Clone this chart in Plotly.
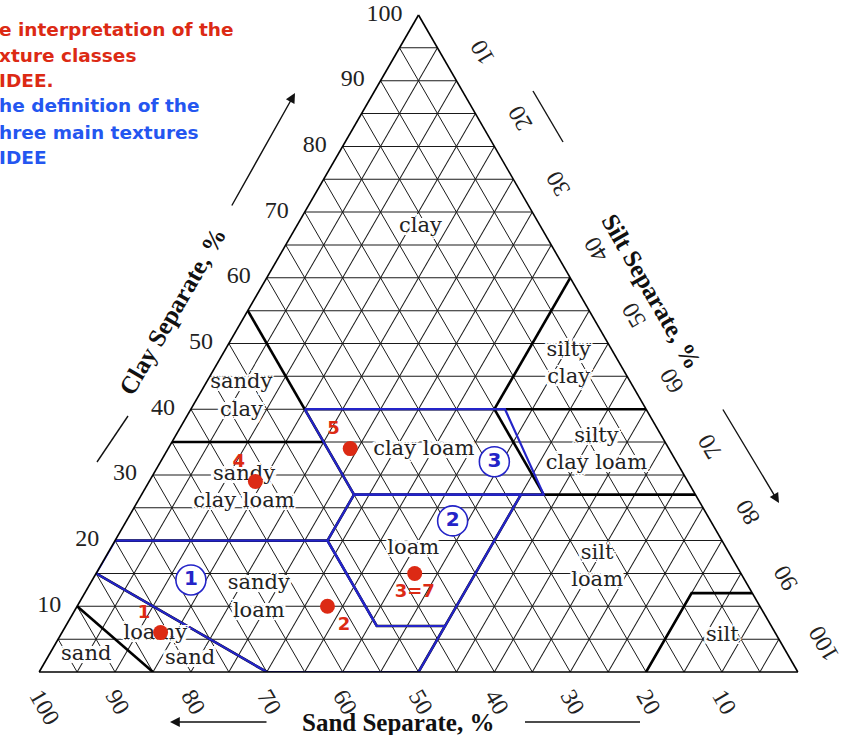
import plotly.graph_objects as go

# ---------------- data (percent sand, silt, clay) ----------------
# analysed samples
sample_names = ["1", "2", "3=7", "4", "5"]
sample_sand = [81, 57, 43, 57, 42]
sample_silt = [13, 33, 42, 14, 24]
sample_clay = [6, 10, 15, 29, 34]
sample_textpos = ["top left", "bottom right", "bottom center", "top left", "top left"]

# the three main texture groups (circled numbers)
group_names = ["1", "2", "3"]
group_sand = [73, 34, 24]
group_silt = [13, 43, 44]
group_clay = [14, 23, 32]

# texture class names and where they are written
class_names = ["clay", "sandy<br>clay", "silty<br>clay", "silty<br>clay loam", "clay loam",
               "sandy<br>clay loam", "loam", "silt<br>loam", "sandy<br>loam",
               "loamy", "sand", "sand", "silt"]
class_clay = [67.7, 41.9, 46.8, 33.7, 33.8, 28.0, 18.8, 15.9, 11.3, 5.8, 2.0, 2.6, 5.5]
class_silt = [16.4, 5.7, 46.4, 56.6, 33.8, 13.0, 39.9, 65.6, 23.3, 12.4, 18.9, 4.9, 87.3]
class_sand = [round(100 - c - s, 1) for c, s in zip(class_clay, class_silt)]

# USDA texture class boundaries, vertices as (sand, silt, clay)
sand_loamy_sand = [(90, 0, 10), (85, 15, 0)]
loamy_sand_sandy_loam = [(85, 0, 15), (70, 30, 0)]
sandy_loam_top = [(80, 0, 20), (52, 28, 20), (52, 41, 7), (43, 50, 7)]
loam_left = [(52, 28, 20), (45, 28, 27)]
silt_50 = [(50, 50, 0), (23, 50, 27)]
clay_27 = [(45, 28, 27), (0, 73, 27)]
clay_35 = [(65, 0, 35), (45, 20, 35)]
sand_45 = [(45, 28, 27), (45, 0, 55)]
clay_40 = [(45, 15, 40), (0, 60, 40)]
sand_20 = [(20, 40, 40), (20, 53, 27)]
silt_40 = [(20, 40, 40), (0, 40, 60)]
silt_class = [(20, 80, 0), (8, 80, 12), (0, 88, 12)]
class_lines = [sand_loamy_sand, loamy_sand_sandy_loam, sandy_loam_top, loam_left, silt_50,
               clay_27, clay_35, sand_45, clay_40, sand_20, silt_40, silt_class]

# outlines of the three main textures
group1_outline = [(80, 0, 20), (52, 28, 20), (52, 41, 7), (43, 50, 7), (50, 50, 0),
                  (70, 30, 0), (85, 0, 15), (80, 0, 20)]
group2_outline = [(45, 28, 27), (52, 28, 20), (52, 41, 7), (43, 50, 7), (23, 50, 27),
                  (45, 28, 27)]
group3_outline = [(45, 15, 40), (18.6, 41.4, 40), (20, 53, 27), (45, 28, 27), (45, 15, 40)]
group_outlines = [group1_outline, group2_outline, group3_outline]

# axis ticks: grid every 5 %, labels every 10 %
tick_vals = list(range(5, 101, 5))
tick_text = [str(v) if v % 10 == 0 else "" for v in tick_vals]

# ---------------- page geometry helpers ----------------
W, H = 843, 735
L, R, T, B = 39, 45, 15, 63


def fx(px):
    return (px - L) / (W - L - R)


def fy(py):
    return (H - B - py) / (H - T - B)


BLUE = "#2424c8"
RED = "#dc2a14"
halo = ", ".join(f"{dx}px {dy}px 0 white" for dx in (-3, 0, 3) for dy in (-3, 0, 3)) + ", 0 0 5px white"

fig = go.Figure()

for line in class_lines:
    fig.add_trace(go.Scatterternary(
        a=[p[2] for p in line], b=[p[0] for p in line], c=[p[1] for p in line],
        mode="lines", line=dict(color="black", width=2.6), hoverinfo="skip"))

for line in group_outlines:
    fig.add_trace(go.Scatterternary(
        a=[p[2] for p in line], b=[p[0] for p in line], c=[p[1] for p in line],
        mode="lines", line=dict(color=BLUE, width=2.2), hoverinfo="skip"))

fig.add_trace(go.Scatterternary(
    a=class_clay, b=class_sand, c=class_silt, mode="text", text=class_names,
    textfont=dict(family="DejaVu Serif", size=21, color="#222", shadow=halo),
    hoverinfo="skip"))

fig.add_trace(go.Scatterternary(
    a=group_clay, b=group_sand, c=group_silt, mode="markers+text", text=group_names,
    textposition="middle center",
    marker=dict(size=30, color="white", line=dict(color=BLUE, width=1.6)),
    textfont=dict(family="DejaVu Sans", size=20, color=BLUE, weight="bold"),
    hoverinfo="skip"))

fig.add_trace(go.Scatterternary(
    a=sample_clay, b=sample_sand, c=sample_silt, mode="markers+text", text=sample_names,
    textposition=sample_textpos,
    marker=dict(size=15, color=RED),
    textfont=dict(family="DejaVu Sans", size=18, color=RED, weight="bold"),
    hoverinfo="skip"))

axis_common = dict(
    tickmode="array", tickvals=tick_vals, ticktext=tick_text,
    tickcolor="rgba(0,0,0,0)",
    tickfont=dict(family="Liberation Serif", size=24, color="#222"),
    showgrid=True, gridcolor="#1a1a1a", gridwidth=1.2,
    showline=True, linecolor="black", linewidth=1.6,
    title=dict(text=""), min=0,
)

fig.update_layout(
    width=W, height=H,
    margin=dict(l=L, r=R, t=T, b=B),
    paper_bgcolor="white", plot_bgcolor="white",
    showlegend=False,
    ternary=dict(
        sum=100, bgcolor="white",
        aaxis=dict(axis_common, tickangle=0, ticks="outside", ticklen=12),
        baxis=dict(axis_common, tickangle=60, ticks=""),
        caxis=dict(axis_common, tickangle=-120, ticks="outside", ticklen=16),
    ),
)

annotations = []
title_font = dict(family="Liberation Serif", size=25, color="#111", weight="bold")
title_style = dict(xref="paper", yref="paper", showarrow=False, font=title_font,
                   xanchor="center", yanchor="middle")
annotations.append(dict(title_style, text="Sand Separate, %", x=fx(398), y=fy(722)))
annotations.append(dict(title_style, text="Clay Separate, %", x=fx(172), y=fy(311), textangle=-60))
annotations.append(dict(title_style, text="Silt Separate, %", x=fx(652), y=fy(291), textangle=60))

# direction arrows
arrow_style = dict(xref="paper", yref="paper", showarrow=True, text="", arrowhead=2,
                   arrowsize=1.4, arrowwidth=1.4, arrowcolor="#111")
annotations.append(dict(arrow_style, x=fx(170), y=fy(722), ax=98, ay=0))
annotations.append(dict(arrow_style, x=fx(295), y=fy(93), ax=-64, ay=114))
annotations.append(dict(arrow_style, x=fx(779), y=fy(503), ax=-57, ay=-95))

# notes in the upper left corner
note_red = ["e interpretation of the", "xture classes", "IDEE."]
note_blue = ["he definition of the", "hree main textures", "IDEE"]
note_y = [29, 55, 80, 105, 132, 157]
for txt, yy, col in zip(note_red + note_blue, note_y, [RED] * 3 + ["#2456f0"] * 3):
    annotations.append(dict(text=txt, x=fx(-3), y=fy(yy), xref="paper", yref="paper",
                            xanchor="left", yanchor="middle", showarrow=False,
                            font=dict(family="DejaVu Sans", size=18.5, color=col, weight="bold")))

fig.update_layout(annotations=annotations)

seg_style = dict(type="line", xref="paper", yref="paper", line=dict(color="#111", width=1.4))
fig.update_layout(shapes=[
    dict(seg_style, x0=fx(525), y0=fy(722), x1=fx(640), y1=fy(722)),
    dict(seg_style, x0=fx(97), y0=fy(462), x1=fx(128), y1=fy(416)),
    dict(seg_style, x0=fx(533), y0=fy(91), x1=fx(563), y1=fy(142)),
])

fig.write_html("out.html")
